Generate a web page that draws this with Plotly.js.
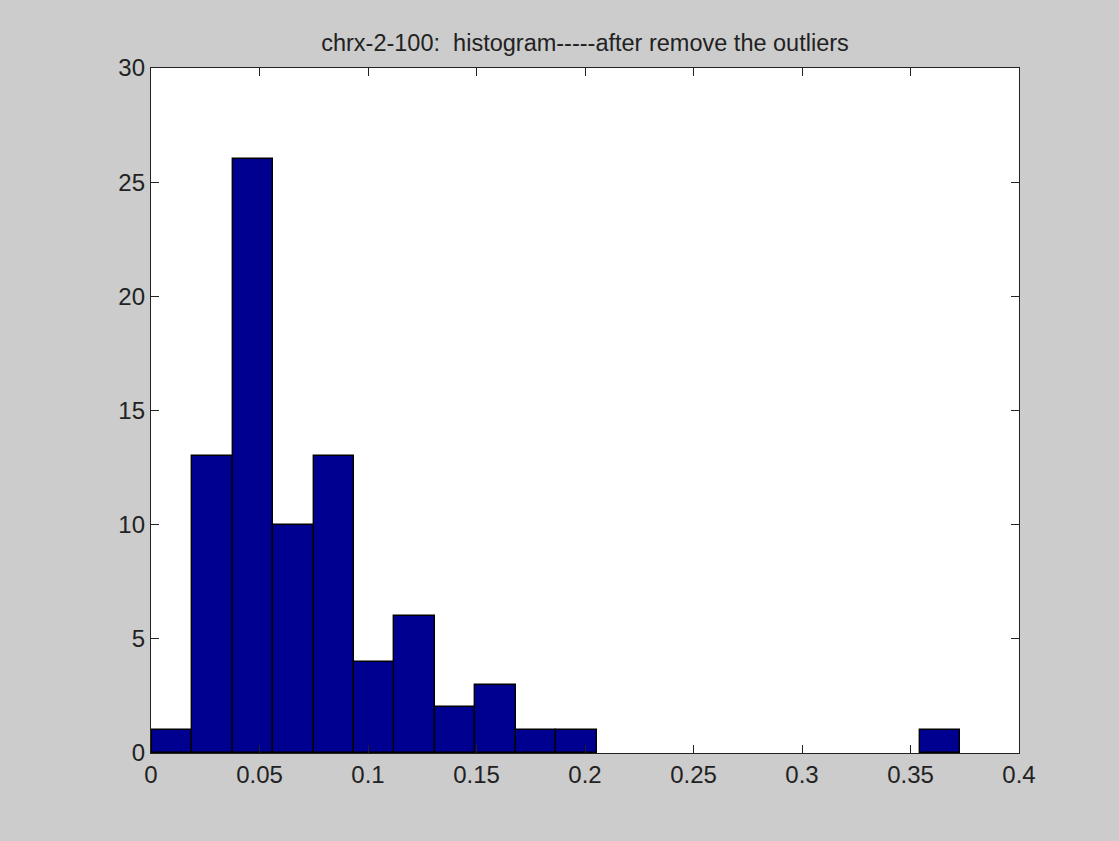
<!DOCTYPE html>
<html>
<head>
<meta charset="utf-8">
<script src="https://cdn.plot.ly/plotly-3.0.1.min.js"></script>
<style>html,body{margin:0;padding:0;background:#cccccc;}</style>
</head>
<body>
<div id="chart" style="width:1119px;height:841px;"></div>
<script>
// Histogram bins (20 equal-width bins)
const binCenters = [0.0097, 0.0283, 0.0470, 0.0656, 0.0842, 0.1029, 0.1215, 0.1401, 0.1588, 0.1774,
                    0.1960, 0.2147, 0.2333, 0.2519, 0.2706, 0.2892, 0.3078, 0.3265, 0.3451, 0.3637];
const counts = [1, 13, 26, 10, 13, 4, 6, 2, 3, 1, 1, 0, 0, 0, 0, 0, 0, 0, 0, 1];
const binWidth = 0.01863;
const xTicks = [0, 0.05, 0.1, 0.15, 0.2, 0.25, 0.3, 0.35, 0.4];
const xTickLabels = ['0', '0.05', '0.1', '0.15', '0.2', '0.25', '0.3', '0.35', '0.4'];
const yTicks = [0, 5, 10, 15, 20, 25, 30];

const trace = {
  type: 'bar',
  x: binCenters,
  y: counts,
  width: binCenters.map(() => binWidth),
  marker: {color: '#000090', line: {color: '#000000', width: counts.map(c => c > 0 ? 1.4 : 0)}},
  hoverinfo: 'x+y'
};

const axisCommon = {
  showline: true, linecolor: '#222222', linewidth: 1.4, mirror: 'ticks',
  ticks: 'inside', ticklen: 8, tickwidth: 1.4, tickcolor: '#222222',
  showgrid: false, zeroline: false,
  tickfont: {family: 'Liberation Sans, Arial, sans-serif', size: 24, color: '#222222'}
};

const layout = {
  width: 1119, height: 841,
  paper_bgcolor: '#cccccc', plot_bgcolor: '#ffffff',
  margin: {l: 151, r: 100, t: 68, b: 88},
  title: {text: 'chrx-2-100:  histogram-----after remove the outliers',
          font: {family: 'Liberation Sans, Arial, sans-serif', size: 23.5, color: '#222222'},
          x: 0.5, xref: 'paper', y: 1, yref: 'paper', yanchor: 'bottom', pad: {b: 17}},
  xaxis: Object.assign({}, axisCommon, {range: [0, 0.4], tickvals: xTicks, ticktext: xTickLabels}),
  yaxis: Object.assign({}, axisCommon, {range: [0, 30], tickvals: yTicks, ticktext: yTicks.map(String)}),
  bargap: 0,
  showlegend: false
};

Plotly.newPlot('chart', [trace], layout, {displayModeBar: false});
</script>
</body>
</html>
